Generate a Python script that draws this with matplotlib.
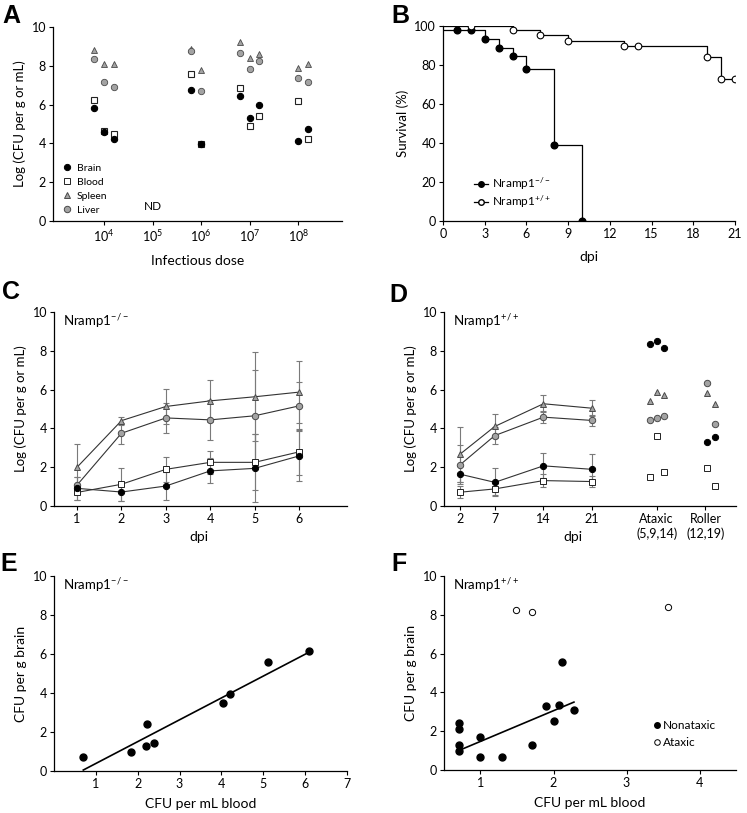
import numpy as np
import matplotlib.pyplot as plt
from matplotlib.lines import Line2D

plt.rcParams['font.family'] = ['Lato', 'DejaVu Sans']
plt.rcParams['mathtext.default'] = 'regular'

# ---- panel A: organ burden vs infectious dose (x = log10 dose + jitter)
a_x = [3.8, 4.0, 4.2, 5.8, 6.0, 6.8, 7.0, 7.2, 8.0, 8.2]
a_brain = [5.81, 4.6, 4.24, 6.74, 3.99, 6.43, 5.31, 6.0, 4.14, 4.76]
a_blood = [6.22, 4.62, 4.5, 7.56, 3.99, 6.87, 4.88, 5.43, 6.2, 4.24]
a_spleen = [8.83, 8.08, 8.08, 8.88, 7.8, 9.24, 8.42, 8.63, 7.9, 8.11]
a_liver = [8.35, 7.16, 6.9, 8.75, 6.68, 8.68, 7.82, 8.25, 7.39, 7.16]
a_ticks = [4, 5, 6, 7, 8]

# ---- panel B: survival
ko_days = [0, 1, 2, 3, 4, 5, 6, 8, 10]
ko_surv = [97.8, 97.8, 97.8, 93.3, 88.9, 84.4, 77.8, 38.9, 0]
wt_days = [0, 2, 5, 7, 9, 13, 14, 19, 20, 21]
wt_surv = [100, 100, 97.8, 95.6, 92.5, 89.6, 89.6, 83.9, 72.8, 72.8]

# ---- panel C: Nramp1-/- time course
c_dpi = [1, 2, 3, 4, 5, 6]
c_spleen = [2.0, 4.4, 5.13, 5.42, 5.63, 5.87]
c_spleen_err = [1.22, 0.2, 0.89, 1.07, 2.3, 1.6]
c_liver = [1.08, 3.75, 4.54, 4.44, 4.65, 5.16]
c_liver_err = [0.43, 0.55, 0.77, 1.04, 2.35, 1.25]
c_blood = [0.7, 1.12, 1.89, 2.25, 2.25, 2.79]
c_blood_err = [0.4, 0.86, 0.65, 0.58, 1.45, 1.2]
c_brain = [0.91, 0.72, 1.03, 1.81, 1.94, 2.58]
c_brain_err = [0.6, 0.48, 0.73, 0.64, 1.75, 1.3]

# ---- panel D: Nramp1+/+ time course + symptomatic mice
d_dpi = [2, 7, 14, 21]
d_spleen = [2.67, 4.1, 5.27, 5.04]
d_spleen_err = [1.42, 0.62, 0.45, 0.42]
d_liver = [2.12, 3.63, 4.58, 4.41]
d_liver_err = [1.0, 0.43, 0.32, 0.3]
d_brain = [1.64, 1.22, 2.07, 1.89]
d_brain_err = [0.4, 0.72, 0.65, 0.77]
d_blood = [0.71, 0.88, 1.31, 1.26]
d_blood_err = [0.3, 0.3, 0.33, 0.28]
d_group_pos = [30.3, 37.3]
d_group_labels = ['Ataxic\n(5,9,14)', 'Roller\n(12,19)']
atx_x = [29.3, 30.3, 31.3]
atx_brain = [8.33, 8.48, 8.16]
atx_spleen = [5.39, 5.87, 5.7]
atx_liver = [4.41, 4.53, 4.66]
atx_blood = [1.51, 3.61, 1.74]
rol_x = [37.6, 38.7]
rol_brain = [3.32, 3.58]
rol_spleen = [5.82, 5.25]
rol_liver = [6.33, 4.23]
rol_blood = [1.94, 1.03]

# ---- panel E: brain vs blood, Nramp1-/-
e_blood = [0.7, 1.85, 2.2, 2.4, 2.23, 4.03, 4.2, 5.12, 6.1]
e_brain = [0.7, 0.97, 1.27, 1.45, 2.4, 3.5, 3.95, 5.57, 6.15]
e_fit_x = [0.7, 6.1]
e_fit_y = [0.05, 6.1]

# ---- panel F: brain vs blood, Nramp1+/+
f_blood = [0.7, 0.7, 0.7, 0.7, 1.0, 1.0, 1.3, 1.7, 1.9, 2.0, 2.08, 2.12, 2.28]
f_brain = [2.43, 2.1, 1.3, 0.97, 1.68, 0.68, 0.68, 1.28, 3.28, 2.55, 3.36, 5.56, 3.08]
f_atx_blood = [1.48, 1.7, 3.57]
f_atx_brain = [8.27, 8.12, 8.42]
f_fit_x = [0.7, 2.28]
f_fit_y = [1.0, 3.5]

GREY = '#a3a3a3'
EDGE = '#4a4a4a'
sty = {
    'brain': dict(marker='o', mfc='black', mec='black', ms=4.5),
    'blood': dict(marker='s', mfc='white', mec='#222222', ms=4.5),
    'spleen': dict(marker='^', mfc=GREY, mec=EDGE, ms=4.8),
    'liver': dict(marker='o', mfc=GREY, mec=EDGE, ms=4.6),
}

W, H = 747, 813
fig = plt.figure(figsize=(W / 100, H / 100), dpi=100)


def make_ax(l, r, t, b):
    ax = fig.add_axes([l / W, 1 - b / H, (r - l) / W, (b - t) / H])
    for s in ['top', 'right']:
        ax.spines[s].set_visible(False)
    for s in ['left', 'bottom']:
        ax.spines[s].set_linewidth(0.9)
    ax.tick_params(direction='out', length=3, width=0.8, labelsize=9, pad=2)
    return ax


def panel_letter(x, y, s):
    fig.text(x / W, 1 - y / H, s, fontsize=18, fontweight='bold',
             family=['Liberation Sans', 'DejaVu Sans'], va='top', ha='left')


# ================= A
ax = make_ax(53, 342, 27, 221)
ax.plot(a_x, a_blood, ls='none', mew=0.8, **sty['blood'])
ax.plot(a_x, a_brain, ls='none', mew=0.8, **sty['brain'])
ax.plot(a_x, a_spleen, ls='none', mew=0.6, **sty['spleen'])
ax.plot(a_x, a_liver, ls='none', mew=0.6, **sty['liver'])
ax.text(5, 0.75, 'ND', ha='center', va='center', fontsize=8.5)
ax.set_xlim(2.95, 8.9)
ax.set_ylim(0, 10)
ax.set_xticks(a_ticks)
ax.set_xticklabels(['$10^{%d}$' % t for t in a_ticks])
ax.set_yticks(range(0, 11, 2))
ax.set_xlabel('Infectious dose', fontsize=10, labelpad=8)
ax.set_ylabel('Log (CFU per g or mL)', fontsize=9.5, labelpad=4)
hs = [Line2D([], [], ls='none', mew=0.7, **sty[k]) for k in ['brain', 'blood', 'spleen', 'liver']]
ax.legend(hs, ['Brain', 'Blood', 'Spleen', 'Liver'], loc='lower left', frameon=False,
          fontsize=7.5, handletextpad=0.4, labelspacing=0.45, borderaxespad=0.2,
          bbox_to_anchor=(0.01, 0.0), handlelength=1.0)
panel_letter(2, 4, 'A')

# ================= B
ax = make_ax(443, 735, 26, 221)
ax.step(ko_days, ko_surv, where='post', color='black', lw=0.9)
ax.plot(ko_days[1:], ko_surv[1:], ls='none', marker='o', mfc='black', mec='black', ms=4.8)
ax.step(wt_days, wt_surv, where='post', color='black', lw=0.9)
ax.plot(wt_days[1:], wt_surv[1:], ls='none', marker='o', mfc='white', mec='black', ms=4.8, mew=0.8)
ax.set_xlim(0, 21)
ax.set_ylim(0, 100)
ax.set_xticks(range(0, 22, 3))
ax.set_yticks(range(0, 101, 20))
ax.set_xlabel('dpi', fontsize=10, labelpad=8)
ax.set_ylabel('Survival (%)', fontsize=9.5, labelpad=4)
hs = [Line2D([], [], color='black', lw=0.9, marker='o', mfc='black', mec='black', ms=4),
      Line2D([], [], color='black', lw=0.9, marker='o', mfc='white', mec='black', ms=4)]
ax.legend(hs, ['Nramp1$^{-/-}$', 'Nramp1$^{+/+}$'], loc='lower left', frameon=False,
          fontsize=8.5, handlelength=1.2, handletextpad=0.3, labelspacing=0.15,
          bbox_to_anchor=(0.07, 0.0))
panel_letter(391, 4, 'B')


def course(ax, x, y, err, key):
    ax.errorbar(x, y, yerr=err, fmt='none', ecolor='#7a7a7a', elinewidth=0.8,
                capsize=2.5, capthick=0.8, zorder=1)
    ax.plot(x, y, color='#333333', lw=0.8, zorder=2, mew=0.7, **sty[key])


# ================= C
ax = make_ax(54, 347, 312, 506)
course(ax, c_dpi, c_spleen, c_spleen_err, 'spleen')
course(ax, c_dpi, c_liver, c_liver_err, 'liver')
course(ax, c_dpi, c_blood, c_blood_err, 'blood')
course(ax, c_dpi, c_brain, c_brain_err, 'brain')
ax.set_xlim(0.48, 7.08)
ax.set_ylim(0, 10)
ax.set_xticks(c_dpi)
ax.set_yticks(range(0, 11, 2))
ax.set_xlabel('dpi', fontsize=10)
ax.xaxis.set_label_coords(0.495, -0.13)
ax.set_ylabel('Log (CFU per g or mL)', fontsize=9.5, labelpad=4)
ax.text(0.03, 1.0, 'Nramp1$^{-/-}$', transform=ax.transAxes, fontsize=9.5, va='top')
panel_letter(2, 280, 'C')

# ================= D
ax = make_ax(444, 736, 312, 506)
course(ax, d_dpi, d_spleen, d_spleen_err, 'spleen')
course(ax, d_dpi, d_liver, d_liver_err, 'liver')
course(ax, d_dpi, d_brain, d_brain_err, 'brain')
course(ax, d_dpi, d_blood, d_blood_err, 'blood')
for xs, vals in [(atx_x, [atx_brain, atx_spleen, atx_liver, atx_blood]),
                 (rol_x, [rol_brain, rol_spleen, rol_liver, rol_blood])]:
    for key, v in zip(['brain', 'spleen', 'liver', 'blood'], vals):
        ax.plot(xs, v, ls='none', mew=0.7, **sty[key])
ax.set_xlim(-0.3, 41.7)
ax.set_ylim(0, 10)
ax.set_xticks(d_dpi + d_group_pos)
ax.set_xticklabels([str(d) for d in d_dpi] + d_group_labels)
ax.set_yticks(range(0, 11, 2))
ax.set_xlabel('dpi', fontsize=10)
ax.xaxis.set_label_coords(0.44, -0.13)
ax.set_ylabel('Log (CFU per g or mL)', fontsize=9.5, labelpad=4)
ax.text(0.03, 1.0, 'Nramp1$^{+/+}$', transform=ax.transAxes, fontsize=9.5, va='top')
panel_letter(389, 283, 'D')

# ================= E
ax = make_ax(54, 347, 576, 771)
ax.plot(e_fit_x, e_fit_y, color='black', lw=1.2)
ax.plot(e_blood, e_brain, ls='none', marker='o', mfc='black', mec='black', ms=5)
ax.set_xlim(0, 7)
ax.set_ylim(0, 10)
ax.set_xticks(range(1, 8))
ax.set_yticks(range(0, 11, 2))
ax.set_xlabel('CFU per mL blood', fontsize=10, labelpad=6)
ax.set_ylabel('CFU per g brain', fontsize=10, labelpad=4)
ax.text(0.03, 1.0, 'Nramp1$^{-/-}$', transform=ax.transAxes, fontsize=9.5, va='top')
panel_letter(0, 552, 'E')

# ================= F
ax = make_ax(444, 736, 576, 770)
ax.plot(f_fit_x, f_fit_y, color='black', lw=1.2)
ax.plot(f_blood, f_brain, ls='none', marker='o', mfc='black', mec='black', ms=5)
ax.plot(f_atx_blood, f_atx_brain, ls='none', marker='o', mfc='white', mec='black', ms=4.5, mew=0.7)
ax.set_xlim(0.5, 4.5)
ax.set_ylim(0, 10)
ax.set_xticks(range(1, 5))
ax.set_yticks(range(0, 11, 2))
ax.set_xlabel('CFU per mL blood', fontsize=10, labelpad=6)
ax.set_ylabel('CFU per g brain', fontsize=10, labelpad=4)
ax.text(0.03, 1.0, 'Nramp1$^{+/+}$', transform=ax.transAxes, fontsize=9.5, va='top')
hs = [Line2D([], [], ls='none', marker='o', mfc='black', mec='black', ms=4),
      Line2D([], [], ls='none', marker='o', mfc='white', mec='black', ms=4, mew=0.7)]
ax.legend(hs, ['Nonataxic', 'Ataxic'], loc='lower left', frameon=False, fontsize=8.5,
          handlelength=0.6, handletextpad=0.2, labelspacing=0.45,
          bbox_to_anchor=(0.68, 0.06))
panel_letter(391, 552, 'F')

fig.savefig('out.png', dpi=100)
